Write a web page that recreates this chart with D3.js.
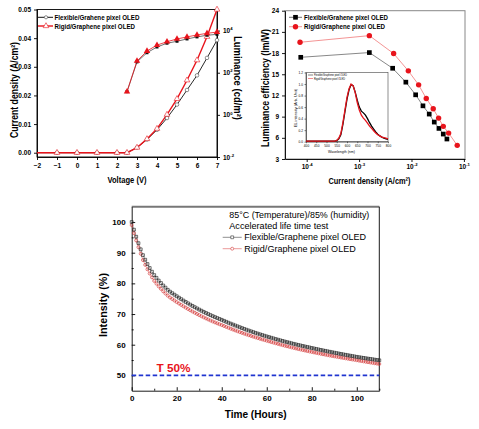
<!DOCTYPE html>
<html><head><meta charset="utf-8">
<script src="https://cdn.jsdelivr.net/npm/d3@7"></script>
<style>body{margin:0;background:#fff}svg{display:block}text{font-family:"Liberation Sans",Arial,sans-serif}</style>
</head><body><svg id="c" width="479" height="429"></svg>
<script>
// ---------- Panel 1: J-V-L ----------
const voltage = [-2,-1,0,1,2,2.5,3,3.5,4,4.5,5,5.5,6,6.5,7];
const jFlex   = [0,0,0,0,0,0,0.0018,0.0046,0.0080,0.0121,0.0168,0.0219,0.0270,0.0331,0.0393];
const jRigid  = [0,0,0,0,0,0,0.0018,0.0048,0.0084,0.0133,0.0188,0.0253,0.0323,0.0405,0.0500];
const lumVolt  = [2.5,3,3.5,4,4.5,5,5.5,6,6.5,7];
const lumFlex  = [12.6,325,890,1660,2510,3100,4000,5000,6000,6600];
const lumRigid = [12.6,360,1070,2040,2950,4000,5000,6200,7400,8500];
const voltTicks = [-2,-1,0,1,2,3,4,5,6,7];
const jTicks = [0,0.01,0.02,0.03,0.04,0.05];
const lumTicks = [1e-2,1,1e2,1e4];

// ---------- Panel 2: efficiency ----------
const effJFlex   = [7.7e-5,1.57e-3,4.37e-3,7.8e-3,0.0120,0.01655,0.0218,0.0272,0.0334,0.0404,0.0474];
const effFlex    = [17.4,18.07,15.85,13.88,12.09,10.53,9.36,8.23,7.33,6.53,5.83];
const effJRigid  = [7.46e-5,1.57e-3,4.56e-3,8.7e-3,0.01368,0.01914,0.0260,0.0329,0.0404,0.0511,0.0746];
const effRigid   = [19.53,20.47,17.93,15.48,13.5,11.57,10.11,8.79,7.62,6.67,4.93];
const effTicks = [3,6,9,12,15,18,21,24];
const cdTicks = [1e-4,1e-3,1e-2,1e-1];

// inset EL spectrum
const wavelength = [400,410,420,430,440,450,460,470,480,490,500,510,520,530,540,550,560,570,580,590,600,610,620,630,640,650,660,670,680,690,700,710,720,730,740,750,760,770,780,790,800];
const elFlex  = [0.01,0.01,0.01,0.01,0.01,0.01,0.01,0.01,0.01,0.01,0.01,0.01,0.01,0.01,0.01,0.02,0.05,0.12,0.30,0.52,0.74,0.90,0.99,0.97,0.86,0.72,0.60,0.53,0.50,0.46,0.40,0.33,0.27,0.22,0.17,0.13,0.10,0.08,0.06,0.05,0.04];
const elRigid = [0.01,0.01,0.01,0.01,0.01,0.01,0.01,0.01,0.01,0.01,0.01,0.01,0.01,0.01,0.01,0.02,0.06,0.14,0.33,0.55,0.77,0.92,1.00,0.97,0.85,0.68,0.55,0.46,0.41,0.37,0.32,0.27,0.23,0.19,0.15,0.12,0.10,0.08,0.07,0.06,0.05];
const wlTicks = [400,450,500,550,600,650,700,750,800];
const elTicks = [0,0.2,0.4,0.6,0.8,1.0,1.2];

// ---------- Panel 3: lifetime ----------
const hours = d3.range(0,111);
const lifeFlex = [100.0,97.5,95.2,93.1,91.1,89.2,87.7,86.3,85.0,83.8,82.7,81.8,80.9,80.1,79.3,78.6,77.9,77.3,76.8,76.3,75.8,
75.32,74.85,74.39,73.94,73.50,73.07,72.65,72.24,71.84,71.45,71.07,70.70,70.34,69.99,69.65,69.32,69.00,68.69,68.39,68.10,
67.78,67.47,67.16,66.86,66.56,66.27,65.98,65.70,65.42,65.15,64.88,64.62,64.36,64.11,63.86,63.62,63.38,63.15,62.92,62.70,
62.48,62.26,62.05,61.84,61.63,61.43,61.23,61.03,60.84,60.65,60.46,60.28,60.10,59.92,59.75,59.58,59.41,59.25,59.09,58.93,
58.77,58.61,58.45,58.30,58.14,57.99,57.84,57.69,57.55,57.40,57.26,57.12,56.98,56.84,56.70,56.57,56.43,56.30,56.17,56.04,
55.92,55.80,55.69,55.57,55.46,55.35,55.24,55.13,55.02,54.91];
const lifeRigid = [99.0,96.4,94.0,91.8,89.65,87.6,86.04,84.58,83.22,81.96,80.8,79.9,79.0,78.2,77.4,76.7,76.0,75.4,74.9,74.4,73.9,
73.43,72.97,72.52,72.08,71.65,71.23,70.82,70.42,70.03,69.65,69.28,68.92,68.57,68.23,67.90,67.58,67.27,66.97,66.68,66.40,
66.10,65.80,65.51,65.22,64.94,64.66,64.39,64.12,63.86,63.60,63.35,63.10,62.86,62.62,62.39,62.16,61.94,61.72,61.51,61.30,
61.09,60.87,60.67,60.46,60.26,60.06,59.87,59.67,59.49,59.30,59.12,58.94,58.77,58.59,58.43,58.26,58.10,57.94,57.79,57.63,
57.48,57.33,57.18,57.04,56.89,56.75,56.61,56.47,56.34,56.20,56.07,55.94,55.81,55.68,55.55,55.43,55.30,55.18,55.06,54.94,
54.81,54.68,54.56,54.43,54.31,54.19,54.07,53.95,53.83,53.71];
const timeTicks = [0,20,40,60,80,100];
const intTicks = [50,60,70,80,90,100];
const t50 = 50;

const RED = "#e8141c", BLK = "#111";
const svg = d3.select("#c");

function styleAxis(g, fs, bold) {
  g.selectAll("path,line").attr("stroke", "#000").attr("stroke-width", 0.9);
  g.selectAll("text").attr("font-size", fs).attr("font-weight", bold ? "bold" : "normal")
    .attr("fill", "#000").attr("font-family", '"Liberation Sans",Arial,sans-serif');
}
function supText(g, fs) {
  g.selectAll(".tick text").each(function(d) {
    const t = d3.select(this); const e = Math.round(Math.log10(d));
    t.text(null);
    t.append("tspan").text("10");
    t.append("tspan").attr("font-size", fs * 0.65).attr("dy", -fs * 0.45).text(e);
  });
}
function label(x, y, txt, fs, opt = {}) {
  const t = svg.append("text").attr("x", x).attr("y", y).attr("font-size", fs)
    .attr("font-weight", opt.bold ? "bold" : "normal").attr("fill", opt.fill || "#000")
    .attr("text-anchor", opt.anchor || "start").attr("dominant-baseline", "central").text(txt);
  if (opt.rot) t.attr("transform", `rotate(${opt.rot},${x},${y})`);
  if (opt.len) t.attr("textLength", opt.len).attr("lengthAdjust", "spacingAndGlyphs");
  return t;
}

// ================= Panel 1 =================
{
  const x = d3.scaleLinear().domain([-2, 7]).range([37, 217]);
  const y = d3.scaleLinear().domain([-0.0015, 0.05]).range([157, 9.5]);
  const yr = d3.scaleLog().domain([0.01, 1e5]).range([157, 9.5]);
  const g = svg.append("g");
  g.append("rect").attr("x", 37).attr("y", 9.5).attr("width", 180).attr("height", 147.5)
    .attr("fill", "none").attr("stroke", "#000").attr("stroke-width", 0.9);
  const ax = g.append("g").attr("transform", "translate(0,157)")
    .call(d3.axisBottom(x).tickValues(voltTicks).tickFormat(d3.format("d")).tickSize(3).tickSizeOuter(0).tickPadding(3));
  styleAxis(ax, 6.5, true);
  const ay = g.append("g").attr("transform", "translate(37,0)")
    .call(d3.axisLeft(y).tickValues(jTicks).tickFormat(d3.format(".2f")).tickSize(3).tickSizeOuter(0).tickPadding(3));
  styleAxis(ay, 6.5, true);
  const ar = g.append("g").attr("transform", "translate(217,0)")
    .call(d3.axisRight(yr).tickValues(lumTicks).tickSize(3).tickSizeOuter(0).tickPadding(3));
  styleAxis(ar, 6.5, true); supText(ar, 6.5);
  const line = d3.line().x(d => x(d[0])).y(d => y(d[1]));
  const lineL = d3.line().x(d => x(d[0])).y(d => yr(d[1]));
  const jF = voltage.map((v, i) => [v, jFlex[i]]), jR = voltage.map((v, i) => [v, jRigid[i]]);
  const lF = lumVolt.map((v, i) => [v, lumFlex[i]]), lR = lumVolt.map((v, i) => [v, lumRigid[i]]);
  g.append("path").attr("d", line(jF)).attr("fill", "none").attr("stroke", BLK).attr("stroke-width", 0.9);
  g.append("path").attr("d", line(jR)).attr("fill", "none").attr("stroke", RED).attr("stroke-width", 1.4);
  g.append("path").attr("d", lineL(lF)).attr("fill", "none").attr("stroke", "#333").attr("stroke-width", 0.7);
  g.append("path").attr("d", lineL(lR)).attr("fill", "none").attr("stroke", RED).attr("stroke-width", 0.8);
  g.selectAll(".jf").data(jF.slice(1)).join("circle").attr("cx", d => x(d[0])).attr("cy", d => y(d[1]))
    .attr("r", 1.8).attr("fill", "#fff").attr("stroke", "#444").attr("stroke-width", 0.6);
  const tri = d3.symbol(d3.symbolTriangle, 14)();
  g.selectAll(".jr").data(jR.slice(1)).join("path").attr("d", tri)
    .attr("transform", d => `translate(${x(d[0])},${y(d[1])})`)
    .attr("fill", "#fff").attr("stroke", RED).attr("stroke-width", 0.6);
  const sq = d3.symbol(d3.symbolSquare, 9)();
  g.selectAll(".lf").data(lF).join("path").attr("d", sq)
    .attr("transform", d => `translate(${x(d[0])},${yr(d[1])})`).attr("fill", "#111");
  const triF = d3.symbol(d3.symbolTriangle, 18)();
  g.selectAll(".lr").data(lR).join("path").attr("d", triF)
    .attr("transform", d => `translate(${x(d[0])},${yr(d[1])})`).attr("fill", RED);
  // legend
  g.append("line").attr("x1", 38).attr("x2", 53).attr("y1", 17.3).attr("y2", 17.3).attr("stroke", BLK).attr("stroke-width", 1);
  g.append("circle").attr("cx", 46).attr("cy", 17.3).attr("r", 1.6).attr("fill", "#fff").attr("stroke", "#444").attr("stroke-width", 0.6);
  g.append("line").attr("x1", 38).attr("x2", 53).attr("y1", 26).attr("y2", 26).attr("stroke", RED).attr("stroke-width", 1.4);
  g.append("path").attr("d", tri).attr("transform", "translate(46,26)").attr("fill", "#fff").attr("stroke", RED).attr("stroke-width", 0.6);
  label(54.5, 17.3, "Flexible/Grahene pixel OLED", 7.5, { bold: true, len: 85 });
  label(54.5, 26, "Rigid/Graphene pixel OLED", 7.5, { bold: true, len: 80.5 });
  label(127, 179.5, "Voltage (V)", 9.5, { bold: true, anchor: "middle", len: 39 });
  label(14, 90, "Current density (A/cm²)", 10, { bold: true, anchor: "middle", rot: -90, len: 96 });
  label(237.5, 78, "Luminance (cd/m²)", 10, { bold: true, anchor: "middle", rot: 90, len: 84 });
}

// ================= Panel 2 =================
{
  const x = d3.scaleLog().domain([Math.pow(10, -4.414), Math.pow(10, -0.979)]).range([285, 465]);
  const y = d3.scaleLinear().domain([3, 24]).range([159, 10.7]);
  const g = svg.append("g");
  g.append("rect").attr("x", 285).attr("y", 10.7).attr("width", 180).attr("height", 148.3)
    .attr("fill", "none").attr("stroke", "#888").attr("stroke-width", 1);
  const ax = g.append("g").attr("transform", "translate(0,159)")
    .call(d3.axisBottom(x).tickValues(cdTicks).tickSize(3).tickSizeOuter(0).tickPadding(2.5));
  styleAxis(ax, 6.5, true); supText(ax, 6.5);
  const ay = g.append("g").attr("transform", "translate(285,0)")
    .call(d3.axisLeft(y).tickValues(effTicks).tickFormat(d3.format("d")).tickSize(3).tickSizeOuter(0).tickPadding(3));
  styleAxis(ay, 6.5, true);
  const line = d3.line().x(d => x(d[0])).y(d => y(d[1]));
  const F = effJFlex.map((v, i) => [v, effFlex[i]]), R = effJRigid.map((v, i) => [v, effRigid[i]]);
  g.append("path").attr("d", line(F)).attr("fill", "none").attr("stroke", "#555").attr("stroke-width", 0.7);
  g.append("path").attr("d", line(R)).attr("fill", "none").attr("stroke", "#e66").attr("stroke-width", 0.7);
  const sq = d3.symbol(d3.symbolSquare, 22)();
  g.selectAll(".f").data(F).join("path").attr("d", sq).attr("transform", d => `translate(${x(d[0])},${y(d[1])})`).attr("fill", "#000");
  g.selectAll(".r").data(R).join("circle").attr("cx", d => x(d[0])).attr("cy", d => y(d[1])).attr("r", 2.7).attr("fill", RED);
  g.append("line").attr("x1", 289).attr("x2", 302).attr("y1", 17.3).attr("y2", 17.3).attr("stroke", "#333").attr("stroke-width", 0.7);
  g.append("path").attr("d", sq).attr("transform", "translate(295.5,17.3)").attr("fill", "#000");
  g.append("line").attr("x1", 289).attr("x2", 302).attr("y1", 26.7).attr("y2", 26.7).attr("stroke", "#e66").attr("stroke-width", 0.7);
  g.append("circle").attr("cx", 295.5).attr("cy", 26.7).attr("r", 2.7).attr("fill", RED);
  label(304, 17.3, "Flexible/Grahene pixel OLED", 7.5, { bold: true, len: 84 });
  label(304, 26.7, "Rigid/Graphene pixel OLED", 7.5, { bold: true, len: 81 });
  label(369.5, 180.5, "Current density (A/cm²)", 9.5, { bold: true, anchor: "middle", len: 82 });
  label(265, 88, "Luminance efficiency (lm/W)", 10, { bold: true, anchor: "middle", rot: -90, len: 118 });

  // inset
  const ix = d3.scaleLinear().domain([400, 800]).range([306, 388]);
  const iy = d3.scaleLinear().domain([0, 1.2]).range([141.7, 72.5]);
  const gi = svg.append("g");
  gi.append("rect").attr("x", 306).attr("y", 72.5).attr("width", 82).attr("height", 69.2)
    .attr("fill", "#fff").attr("stroke", "#444").attr("stroke-width", 0.6);
  const iax = gi.append("g").attr("transform", "translate(0,141.7)")
    .call(d3.axisBottom(ix).tickValues(wlTicks).tickFormat(d3.format("d")).tickSize(1.5).tickSizeOuter(0).tickPadding(1.5));
  styleAxis(iax, 3.2, false); iax.selectAll("path,line").attr("stroke-width", 0.5);
  const iay = gi.append("g").attr("transform", "translate(306,0)")
    .call(d3.axisLeft(iy).tickValues(elTicks).tickFormat(d3.format(".1f")).tickSize(1.5).tickSizeOuter(0).tickPadding(1.5));
  styleAxis(iay, 3.2, false); iay.selectAll("path,line").attr("stroke-width", 0.5);
  const il = d3.line().x(d => ix(d[0])).y(d => iy(d[1]));
  gi.append("path").attr("d", il(wavelength.map((w, i) => [w, elFlex[i]]))).attr("fill", "none").attr("stroke", "#000").attr("stroke-width", 1.3);
  gi.append("path").attr("d", il(wavelength.map((w, i) => [w, elRigid[i]]))).attr("fill", "none").attr("stroke", RED).attr("stroke-width", 1.3);
  gi.append("line").attr("x1", 308).attr("x2", 313).attr("y1", 75).attr("y2", 75).attr("stroke", "#000").attr("stroke-width", 0.5);
  gi.append("line").attr("x1", 308).attr("x2", 313).attr("y1", 78.5).attr("y2", 78.5).attr("stroke", RED).attr("stroke-width", 0.5);
  label(314, 75, "Flexible/Graphene pixel OLED", 3, { len: 33 });
  label(314, 78.5, "Rigid/Graphene pixel OLED", 3, { len: 31 });
  label(341.5, 151.5, "Wavelength (nm)", 4.3, { anchor: "middle", len: 27 });
  label(296, 108, "EL intensity (Arb. Unit)", 3.8, { anchor: "middle", rot: -90, len: 38 });
}

// ================= Panel 3 =================
{
  const x = d3.scaleLinear().domain([0, 110]).range([131.7, 379.3]);
  const y = d3.scaleLinear().domain([45, 105]).range([390.7, 206.7]);
  const g = svg.append("g");
  g.append("line").attr("x1", 131.7).attr("x2", 379.3).attr("y1", 206.7).attr("y2", 206.7).attr("stroke", "#777").attr("stroke-width", 2);
  g.append("line").attr("x1", 379.3).attr("x2", 379.3).attr("y1", 206.7).attr("y2", 390.7).attr("stroke", "#000").attr("stroke-width", 0.9);
  const ax = g.append("g").attr("transform", "translate(0,390.7)")
    .call(d3.axisBottom(x).tickValues(timeTicks).tickFormat(d3.format("d")).tickSize(-3.5).tickSizeOuter(0).tickPadding(5));
  styleAxis(ax, 8, true);
  const axm = g.append("g").attr("transform", "translate(0,390.7)")
    .call(d3.axisBottom(x).tickValues([10, 30, 50, 70, 90, 110]).tickFormat("").tickSize(-2).tickSizeOuter(0));
  styleAxis(axm, 8, true); axm.select("path").remove();
  const ay = g.append("g").attr("transform", "translate(131.7,0)")
    .call(d3.axisLeft(y).tickValues(intTicks).tickFormat(d3.format("d")).tickSize(-3.5).tickSizeOuter(0).tickPadding(6));
  styleAxis(ay, 8, true);
  const aym = g.append("g").attr("transform", "translate(131.7,0)")
    .call(d3.axisLeft(y).tickValues([55, 65, 75, 85, 95]).tickFormat("").tickSize(-2).tickSizeOuter(0));
  styleAxis(aym, 8, true); aym.select("path").remove();
  // T50 line
  g.append("line").attr("x1", x(0)).attr("x2", x(110)).attr("y1", y(t50)).attr("y2", y(t50))
    .attr("stroke", "#2035d0").attr("stroke-width", 1.6).attr("stroke-dasharray", "4.5,2.5");
  label(156.5, 367.5, "T 50%", 10.5, { bold: true, fill: "#e8141c", len: 34 }).attr("font-family", '"Noto Sans",sans-serif');
  const F = hours.map((h, i) => [h, lifeFlex[i]]), R = hours.map((h, i) => [h, lifeRigid[i]]);
  const line = d3.line().x(d => x(d[0])).y(d => y(d[1]));
  g.append("path").attr("d", line(R)).attr("fill", "none").attr("stroke", "#d55").attr("stroke-width", 0.5);
  g.append("path").attr("d", line(F)).attr("fill", "none").attr("stroke", "#444").attr("stroke-width", 0.5);
  const sq = d3.symbol(d3.symbolSquare, 8)();
  g.selectAll(".r").data(R).join("circle").attr("cx", d => x(d[0])).attr("cy", d => y(d[1])).attr("r", 1.5)
    .attr("fill", "none").attr("stroke", "#d43a3a").attr("stroke-width", 0.65);
  g.selectAll(".f").data(F).join("path").attr("d", sq).attr("transform", d => `translate(${x(d[0])},${y(d[1])})`)
    .attr("fill", "none").attr("stroke", "#222").attr("stroke-width", 0.65);
  // legend
  label(229.3, 215, "85°C (Temperature)/85% (humidity)", 9, { len: 140 });
  label(229.3, 225.7, "Accelerated life time test", 9, { len: 99 });
  g.append("line").attr("x1", 222.7).attr("x2", 241.7).attr("y1", 237.3).attr("y2", 237.3).attr("stroke", "#444").attr("stroke-width", 0.6);
  g.append("path").attr("d", sq).attr("transform", "translate(232.2,237.3)").attr("fill", "#fff").attr("stroke", "#333").attr("stroke-width", 0.6);
  g.append("line").attr("x1", 222.7).attr("x2", 241.7).attr("y1", 248.7).attr("y2", 248.7).attr("stroke", "#d55").attr("stroke-width", 0.6);
  g.append("circle").attr("cx", 232.2).attr("cy", 248.7).attr("r", 1.5).attr("fill", "#fff").attr("stroke", "#d43a3a").attr("stroke-width", 0.6);
  label(244.3, 237.3, "Flexible/Graphene pixel OLED", 9, { len: 121.7 });
  label(244.3, 248.7, "Rigid/Graphene pixel OLED", 9, { len: 111.4 });
  label(255.7, 414, "Time (Hours)", 10.5, { bold: true, anchor: "middle", len: 62 });
  label(103, 305, "Intensity (%)", 10.5, { bold: true, anchor: "middle", rot: -90, len: 64 });
}
</script></body></html>
